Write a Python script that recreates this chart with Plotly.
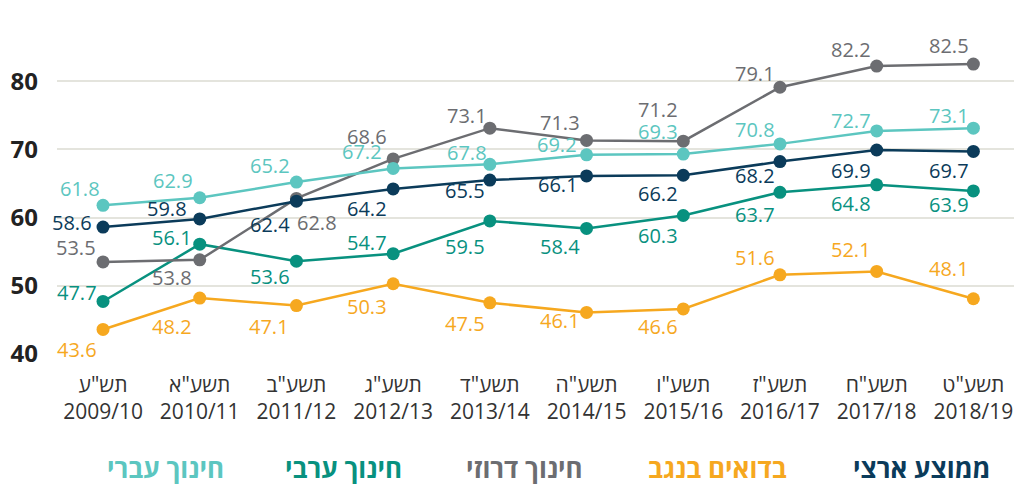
import plotly.graph_objects as go

years_heb = ['תש"ע', 'תשע"א', 'תשע"ב', 'תשע"ג', 'תשע"ד', 'תשע"ה', 'תשע"ו', 'תשע"ז', 'תשע"ח', 'תשע"ט']
years = ["2009/10", "2010/11", "2011/12", "2012/13", "2013/14", "2014/15", "2015/16", "2016/17", "2017/18", "2018/19"]

national = [58.6, 59.8, 62.4, 64.2, 65.5, 66.1, 66.2, 68.2, 69.9, 69.7]
bedouin = [43.6, 48.2, 47.1, 50.3, 47.5, 46.1, 46.6, 51.6, 52.1, 48.1]
druze = [53.5, 53.8, 62.8, 68.6, 73.1, 71.3, 71.2, 79.1, 82.2, 82.5]
arab = [47.7, 56.1, 53.6, 54.7, 59.5, 58.4, 60.3, 63.7, 64.8, 63.9]
hebrew = [61.8, 62.9, 65.2, 67.2, 67.8, 69.2, 69.3, 70.8, 72.7, 73.1]

names = ["ממוצע ארצי", "בדואים בנגב", "חינוך דרוזי", "חינוך ערבי", "חינוך עברי"]
series = [national, bedouin, druze, arab, hebrew]
colors = ["#0b3b5a", "#f6a81f", "#6c6d71", "#08917f", "#5cc6c0"]

# label offsets in pixels (dx, dy with dy positive = downward on screen)
label_dx = [
    [-31, -33, -26, -26, -25, -29, -25, -25, -26, -24],
    [-26, -28, -27, -26, -25, -27, -25, -25, -26, -24],
    [-27, -28, 21, -26, -23, -27, -25, -25, -26, -24],
    [-26, -28, -26, -26, -25, -27, -25, -25, -26, -24],
    [-23, -27, -26, -31, -23, -30, -25, -25, -26, -24],
]
label_dy = [
    [-5, -10, 23, 20, 10, 9, 18, 14, 20, 19],
    [20, 28, 21, 23, 21, 8, 18, -17, -22, -30],
    [-14, 18, 24, -22, -13, -18, -32, -14, -17, -19],
    [-9, -7, 15, -11, 26, 18, 20, 22, 19, 14],
    [-17, -17, -17, -17, -12, -10, -23, -14, -10, -13],
]

FONT = "Open Sans, Liberation Sans, DejaVu Sans, sans-serif"
idx = list(range(len(years)))

fig = go.Figure()
for k in [1, 3, 2, 0, 4]:
    fig.add_trace(go.Scatter(
        x=idx, y=series[k], mode="lines+markers", name=names[k],
        line=dict(color=colors[k], width=2.5),
        marker=dict(color=colors[k], size=13),
        showlegend=False, hoverinfo="skip",
    ))

annotations = []
for k, vals in enumerate(series):
    for i, v in enumerate(vals):
        annotations.append(dict(
            x=i, y=v, xref="x", yref="y", text=f"{v:.1f}", showarrow=False,
            xshift=label_dx[k][i], yshift=-label_dy[k][i],
            xanchor="center", yanchor="middle",
            font=dict(family=FONT, size=20, color=colors[k]),
        ))

legend_x = [922, 717, 524, 343, 165]
for k in range(5):
    annotations.append(dict(
        x=(legend_x[k] - 57) / (1014 - 57), y=0, xref="paper", yref="paper",
        xanchor="center", yanchor="middle",
        yshift=-114, text=f"<b>{names[k]}</b>", showarrow=False,
        font=dict(family=FONT, size=26, color=colors[k]),
    ))

fig.update_layout(
    width=1014, height=487,
    margin=dict(l=57, r=0, t=47, b=133, autoexpand=False),
    paper_bgcolor="white", plot_bgcolor="white",
    annotations=annotations,
    xaxis=dict(
        range=[-0.476, 9.42], tickvals=idx,
        ticktext=[f"{h}<br>{y}" for h, y in zip(years_heb, years)],
        showgrid=False, zeroline=False, showline=False, ticks="",
        tickfont=dict(family=FONT, size=21, color="#333333"),
        ticklabelstandoff=16, automargin=False,
    ),
    yaxis=dict(
        range=[40, 85], tickvals=[40, 50, 60, 70, 80],
        ticktext=["<b>40</b>", "<b>50</b>", "<b>60</b>", "<b>70</b>", "<b>80</b>"],
        showgrid=True, gridcolor="#e4e4dd", gridwidth=2,
        zeroline=False, showline=False, ticks="",
        tickfont=dict(family=FONT, size=24, color="#222222"),
        ticklabelstandoff=18, automargin=False,
    ),
)

fig.write_html(
    "out.html",
    config={"displayModeBar": False},
    post_script="document.body.style.margin='0';document.body.style.overflow='hidden';",
)
